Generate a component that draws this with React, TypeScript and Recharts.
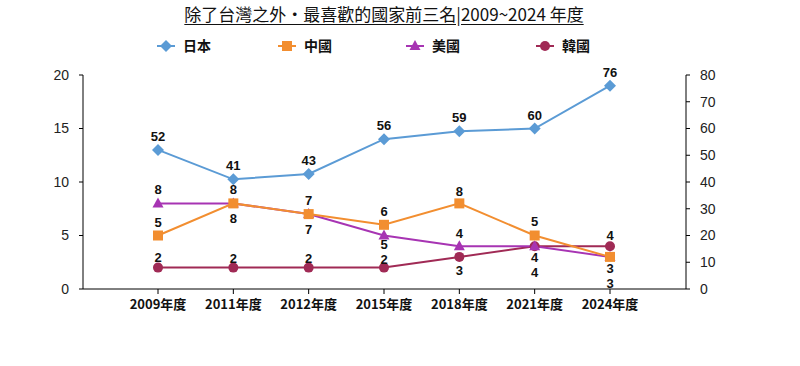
import { LineChart, Line, XAxis, YAxis, LabelList } from 'recharts';

const years = ['2009年度', '2011年度', '2012年度', '2015年度', '2018年度', '2021年度', '2024年度'];
const japan = [52, 41, 43, 56, 59, 60, 76];
const china = [5, 8, 7, 6, 8, 5, 3];
const usa = [8, 8, 7, 5, 4, 4, 3];
const korea = [2, 2, 2, 2, 3, 4, 4];
const leftTicks = [0, 5, 10, 15, 20];
const rightTicks = [0, 10, 20, 30, 40, 50, 60, 70, 80];

// label offset from the point (label centre), negative = above
const jpLabelDy = [-14, -14, -14, -14, -14, -14, -14];
const cnLabelDy = [-14, -14, -14, -14, -12, -15, 11];
const usLabelDy = [-14, 15, 15, 8, -13, 11, 26];
const krLabelDy = [-11, -10, -10, -9, 13, 26, -11];

const data = years.map((year, i) => ({
  year,
  japan: japan[i],
  china: china[i],
  usa: usa[i],
  korea: korea[i],
}));

const COLORS = {
  japan: '#5b9bd5',
  china: '#f28e30',
  usa: '#a734b3',
  korea: '#a02a55',
};

const CJK = '"Noto Sans CJK TC", "Liberation Sans", sans-serif';
const NUM = '"Liberation Sans", Arial, sans-serif';

type Shape = 'diamond' | 'square' | 'triangle' | 'circle';

function Marker({ cx, cy, shape, color }: { cx: number; cy: number; shape: Shape; color: string }) {
  if (shape === 'diamond') {
    return <path d={`M${cx},${cy - 6} L${cx + 6},${cy} L${cx},${cy + 6} L${cx - 6},${cy} Z`} fill={color} />;
  }
  if (shape === 'square') {
    return <rect x={cx - 5} y={cy - 5} width={10} height={10} fill={color} />;
  }
  if (shape === 'triangle') {
    return <path d={`M${cx},${cy - 6} L${cx + 5.5},${cy + 4} L${cx - 5.5},${cy + 4} Z`} fill={color} />;
  }
  return <circle cx={cx} cy={cy} r={5} fill={color} />;
}

function dotFor(shape: Shape, color: string) {
  return (props: any) => {
    const { cx, cy, index } = props;
    if (cx == null || cy == null) return <g key={`d-${index}`} />;
    return (
      <g key={`${shape}-${index}`}>
        <Marker cx={cx} cy={cy} shape={shape} color={color} />
      </g>
    );
  };
}

function labelFor(offsets: number[]) {
  return (props: any) => {
    const { x, y, value, index } = props;
    return (
      <text
        x={x}
        y={y + offsets[index]}
        dy={5}
        textAnchor="middle"
        fontFamily={NUM}
        fontWeight="bold"
        fontSize={13}
        fill="#111"
      >
        {value}
      </text>
    );
  };
}

const legendItems: { name: string; shape: Shape; color: string; x: number }[] = [
  { name: '日本', shape: 'diamond', color: COLORS.japan, x: 166 },
  { name: '中國', shape: 'square', color: COLORS.china, x: 287 },
  { name: '美國', shape: 'triangle', color: COLORS.usa, x: 415 },
  { name: '韓國', shape: 'circle', color: COLORS.korea, x: 545 },
];

export default function App() {
  return (
    <div style={{ position: 'absolute', left: 0, top: 0, width: 800, height: 366, background: '#fff' }}>
      <div
        style={{
          position: 'absolute',
          top: 1,
          left: 0,
          width: 768,
          textAlign: 'center',
          fontFamily: CJK,
          fontSize: 17,
          color: '#111',
        }}
      >
        <span style={{ textDecoration: 'underline', textUnderlineOffset: 3 }}>
          除了台灣之外・最喜歡的國家前三名|2009~2024 年度
        </span>
      </div>
      <svg width={800} height={60} style={{ position: 'absolute', left: 0, top: 18 }}>
        {legendItems.map((it) => (
          <g key={it.name}>
            <line x1={it.x - 9} x2={it.x + 9} y1={28} y2={28} stroke={it.color} strokeWidth={2} />
            <Marker cx={it.x} cy={28} shape={it.shape} color={it.color} />
            <text x={it.x + 17} y={33} fontFamily={CJK} fontWeight="bold" fontSize={14} fill="#111">
              {it.name}
            </text>
          </g>
        ))}
      </svg>
      <div style={{ position: 'absolute', left: 0, top: 0 }}>
        <LineChart width={800} height={366} data={data} margin={{ top: 75, right: 0, bottom: 47, left: 0 }}>
          <XAxis
            dataKey="year"
            padding={{ left: 75, right: 76 }}
            height={30}
            axisLine={{ stroke: '#000' }}
            tickLine={{ stroke: '#000' }}
            tickSize={5}
            tickMargin={6}
            tick={{ fontFamily: CJK, fontWeight: 'bold', fontSize: 13, fill: '#111' }}
            interval={0}
          />
          <YAxis
            yAxisId="left"
            width={83}
            domain={[0, 20]}
            ticks={leftTicks}
            axisLine={{ stroke: '#000' }}
            tickLine={{ stroke: '#000' }}
            tickSize={4}
            tickMargin={10}
            tick={{ fontFamily: NUM, fontSize: 14, fill: '#222' }}
          />
          <YAxis
            yAxisId="right"
            orientation="right"
            width={114}
            domain={[0, 80]}
            ticks={rightTicks}
            axisLine={{ stroke: '#000' }}
            tickLine={{ stroke: '#000' }}
            tickSize={4}
            tickMargin={10}
            tick={{ fontFamily: NUM, fontSize: 14, fill: '#222', textAnchor: 'start' }}
          />
          <Line
            yAxisId="left"
            dataKey="korea"
            stroke={COLORS.korea}
            strokeWidth={2}
            dot={dotFor('circle', COLORS.korea)}
            isAnimationActive={false}
          >
            <LabelList dataKey="korea" content={labelFor(krLabelDy)} />
          </Line>
          <Line
            yAxisId="left"
            dataKey="usa"
            stroke={COLORS.usa}
            strokeWidth={2}
            dot={dotFor('triangle', COLORS.usa)}
            isAnimationActive={false}
          >
            <LabelList dataKey="usa" content={labelFor(usLabelDy)} />
          </Line>
          <Line
            yAxisId="left"
            dataKey="china"
            stroke={COLORS.china}
            strokeWidth={2}
            dot={dotFor('square', COLORS.china)}
            isAnimationActive={false}
          >
            <LabelList dataKey="china" content={labelFor(cnLabelDy)} />
          </Line>
          <Line
            yAxisId="right"
            dataKey="japan"
            stroke={COLORS.japan}
            strokeWidth={2}
            dot={dotFor('diamond', COLORS.japan)}
            isAnimationActive={false}
          >
            <LabelList dataKey="japan" content={labelFor(jpLabelDy)} />
          </Line>
        </LineChart>
      </div>
    </div>
  );
}
